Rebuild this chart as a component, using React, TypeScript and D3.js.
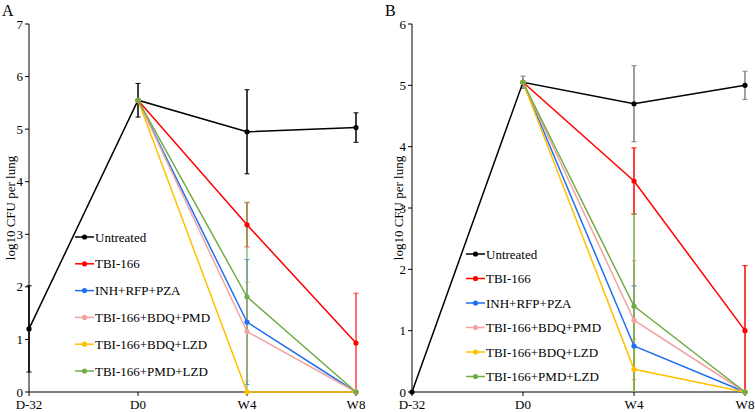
import React from "react";
import * as d3 from "d3";

const categories = ["D-32", "D0", "W4", "W8"];
const seriesNames = ["Untreated", "TBI-166", "INH+RFP+PZA", "TBI-166+BDQ+PMD", "TBI-166+BDQ+LZD", "TBI-166+PMD+LZD"];
const seriesColors = ["#000000", "#ff0000", "#1f6ff0", "#f4a3a3", "#ffc000", "#70ad47"];

// Panel A values (log10 CFU per lung)
const untreatedA = [1.2, 5.55, 4.95, 5.03];
const tbi166A = [null, 5.55, 3.18, 0.93];
const inhA = [null, 5.55, 1.33, 0];
const bdqPmdA = [null, 5.55, 1.15, 0];
const bdqLzdA = [null, 5.55, 0, 0];
const pmdLzdA = [null, 5.55, 1.81, 0];
const untreatedErrA = [0.82, 0.32, 0.8, 0.28];
const tbi166ErrA = [0, 0, 0.42, 0.95];
const inhErrA = [0, 0, 1.19, 0];
const bdqPmdErrA = [0, 0, 0.94, 0];
const bdqLzdErrA = [0, 0, 0, 0];
const pmdLzdErrA = [0, 0, 1.8, 0];

// Panel B values
const untreatedB = [0, 5.05, 4.7, 5.0];
const tbi166B = [null, 5.05, 3.44, 1.0];
const inhB = [null, 5.05, 0.75, 0];
const bdqPmdB = [null, 5.05, 1.17, 0];
const bdqLzdB = [null, 5.05, 0.37, 0];
const pmdLzdB = [null, 5.05, 1.4, 0];
const untreatedErrB = [0, 0.1, 0.62, 0.23];
const tbi166ErrB = [0, 0, 0.54, 1.06];
const inhErrB = [0, 0, 0.98, 0];
const bdqPmdErrB = [0, 0, 0.97, 0];
const bdqLzdErrB = [0, 0, 0.49, 0];
const pmdLzdErrB = [0, 0, 1.5, 0];

const ticksA = [0, 1, 2, 3, 4, 5, 6, 7];
const ticksB = [0, 1, 2, 3, 4, 5, 6];

const FONT = "Liberation Serif, Times New Roman, Times, serif";

type PanelProps = {
  label: string;
  values: (number | null)[][];
  errors: number[][];
  ticks: number[];
  x0: number;
  x1: number;
  yTop: number;
  yBottom: number;
  titleX: number;
  legendX: number;
  legendY: number;
  legendStep: number;
  untreatedErrColor: string;
  errOpacity: number;
};

function Panel(p: PanelProps) {
  const yMax = p.ticks[p.ticks.length - 1];
  const x = d3.scalePoint<string>().domain(categories).range([p.x0, p.x1]);
  const y = d3.scaleLinear().domain([0, yMax]).range([p.yBottom, p.yTop]);
  const line = d3
    .line<{ c: string; v: number | null }>()
    .defined((d) => d.v !== null)
    .x((d) => x(d.c)!)
    .y((d) => y(d.v as number));

  const clampY = (v: number) => y(Math.max(0, Math.min(yMax, v)));

  return (
    <g>
      <text x={p.x0 - 27} y={16} fontSize={16}>{p.label}</text>
      {/* y axis */}
      <line x1={p.x0} x2={p.x0} y1={p.yTop} y2={p.yBottom} stroke="#000" strokeWidth={1} />
      {p.ticks.map((t) => (
        <g key={t}>
          <line x1={p.x0 - 4} x2={p.x0} y1={y(t)} y2={y(t)} stroke="#000" />
          <text x={p.x0 - 6} y={y(t)} dy="0.35em" textAnchor="end" fontSize={13}>{t}</text>
        </g>
      ))}
      <text
        transform={`translate(${p.titleX},${(p.yTop + p.yBottom) / 2}) rotate(-90)`}
        textAnchor="middle"
        fontSize={13}
      >log10 CFU per lung</text>
      {/* x axis */}
      <line x1={p.x0} x2={p.x1} y1={p.yBottom} y2={p.yBottom} stroke="#000" strokeWidth={1} />
      {categories.map((c) => (
        <g key={c}>
          <line x1={x(c)!} x2={x(c)!} y1={p.yBottom} y2={p.yBottom + 4} stroke="#000" />
          <text x={x(c)!} y={p.yBottom + 17} textAnchor="middle" fontSize={13}>{c}</text>
        </g>
      ))}
      {/* error bars */}
      {p.values.map((vals, si) =>
        vals.map((v, ci) => {
          const e = p.errors[si][ci];
          if (v === null || !e) return null;
          const cx = x(categories[ci])!;
          const col = si === 0 ? p.untreatedErrColor : seriesColors[si];
          const top = clampY(v + e);
          const bot = clampY(v - e);
          return (
            <g key={`e${si}-${ci}`} stroke={col} strokeWidth={1.5} opacity={si === 0 ? 1 : p.errOpacity}>
              <line x1={cx} x2={cx} y1={top} y2={bot} />
              {v + e <= yMax && <line x1={cx - 2.5} x2={cx + 2.5} y1={top} y2={top} strokeWidth={1} />}
              {v - e >= 0 && <line x1={cx - 2.5} x2={cx + 2.5} y1={bot} y2={bot} strokeWidth={1} />}
            </g>
          );
        })
      )}
      {/* lines */}
      {p.values.map((vals, si) => {
        const pts = vals.map((v, ci) => ({ c: categories[ci], v }));
        return (
          <g key={`s${si}`}>
            <path d={line(pts) || ""} fill="none" stroke={seriesColors[si]} strokeWidth={1.5} />
            {pts.filter((d) => d.v !== null).map((d) => (
              <circle key={d.c} cx={x(d.c)!} cy={y(d.v as number)} r={2.6} fill={seriesColors[si]} />
            ))}
          </g>
        );
      })}
      {/* legend */}
      {seriesNames.map((n, i) => {
        const ly = p.legendY + i * p.legendStep;
        return (
          <g key={n}>
            <line x1={p.legendX} x2={p.legendX + 19} y1={ly} y2={ly} stroke={seriesColors[i]} strokeWidth={1.5} />
            <circle cx={p.legendX + 9.5} cy={ly} r={2.6} fill={seriesColors[i]} />
            <text x={p.legendX + 20} y={ly} dy="0.35em" fontSize={13}>{n}</text>
          </g>
        );
      })}
    </g>
  );
}

export default function App() {
  return (
    <svg
      width={755}
      height={412}
      style={{ position: "absolute", left: 0, top: 0, background: "#fff", fontFamily: FONT }}
      fontFamily={FONT}
    >
      <rect width={755} height={412} fill="#fff" />
      <Panel
        label="A"
        values={[untreatedA, tbi166A, inhA, bdqPmdA, bdqLzdA, pmdLzdA]}
        errors={[untreatedErrA, tbi166ErrA, inhErrA, bdqPmdErrA, bdqLzdErrA, pmdLzdErrA]}
        ticks={ticksA}
        x0={29}
        x1={356}
        yTop={24}
        yBottom={392}
        titleX={15}
        legendX={75}
        legendY={237}
        legendStep={26.8}
        untreatedErrColor="#000"
        errOpacity={0.75}
      />
      <Panel
        label="B"
        values={[untreatedB, tbi166B, inhB, bdqPmdB, bdqLzdB, pmdLzdB]}
        errors={[untreatedErrB, tbi166ErrB, inhErrB, bdqPmdErrB, bdqLzdErrB, pmdLzdErrB]}
        ticks={ticksB}
        x0={412}
        x1={745}
        yTop={24}
        yBottom={392}
        titleX={403}
        legendX={466}
        legendY={254}
        legendStep={24.5}
        untreatedErrColor="#808080"
        errOpacity={1}
      />
    </svg>
  );
}
